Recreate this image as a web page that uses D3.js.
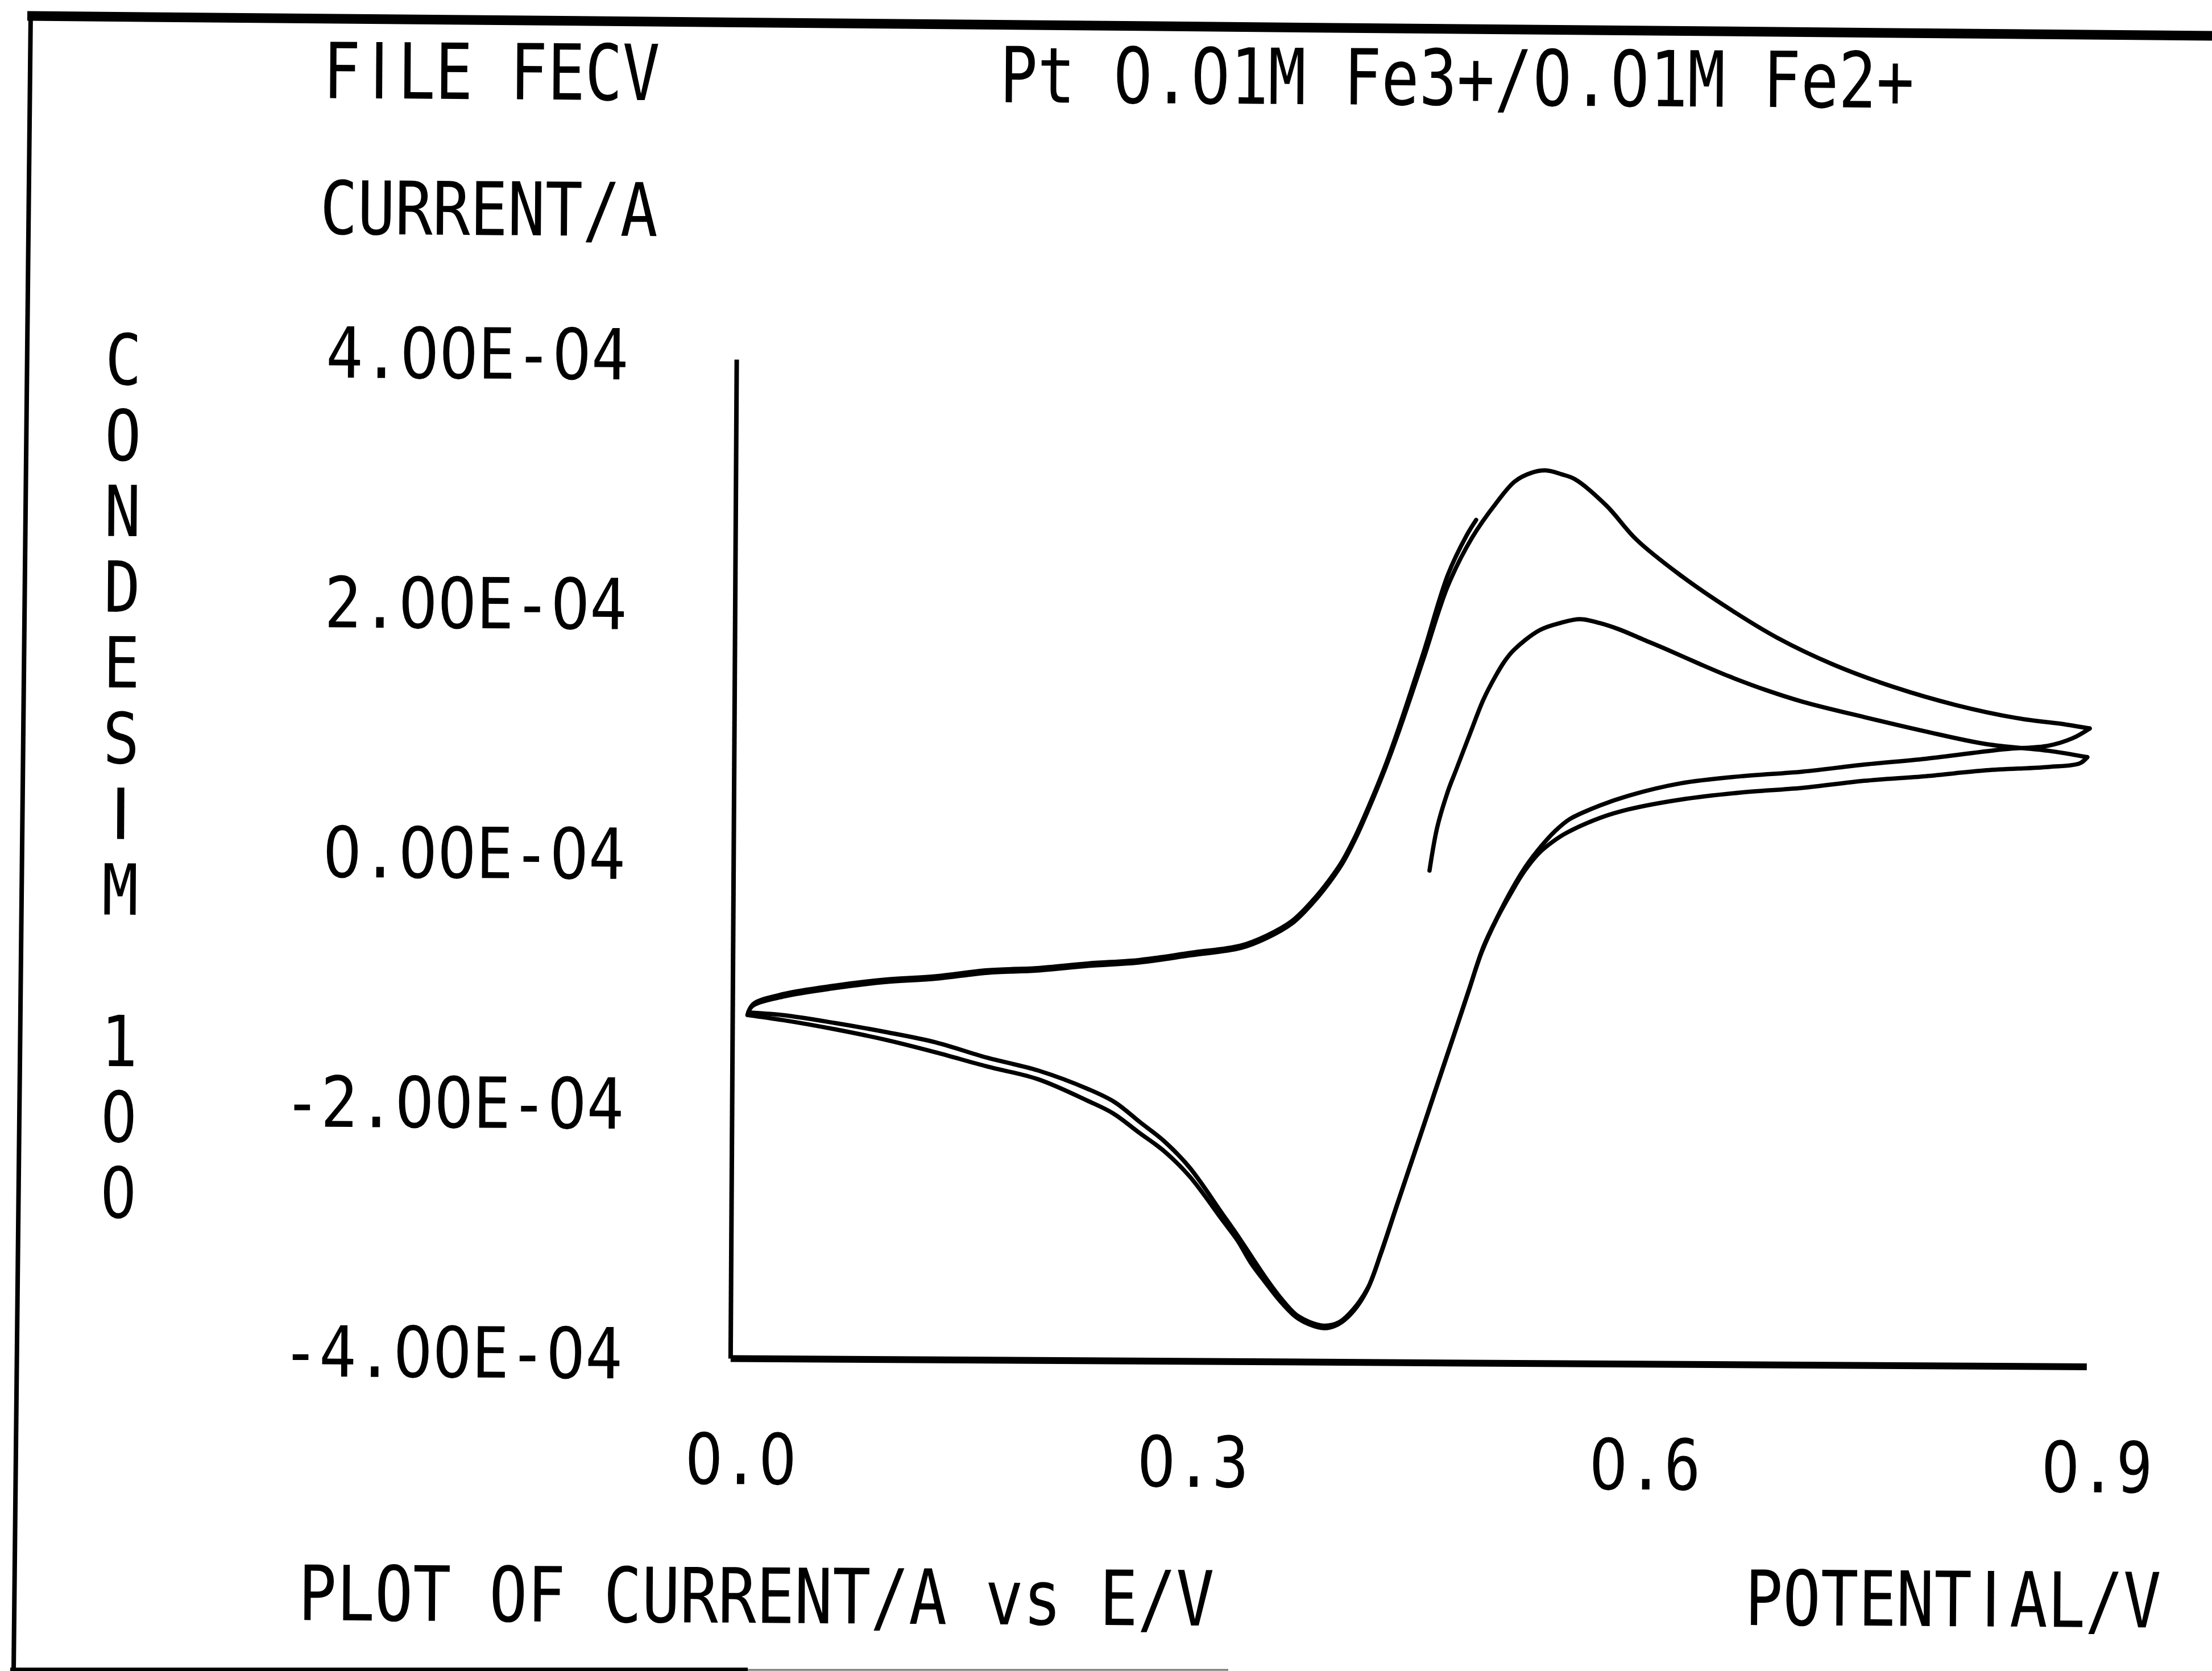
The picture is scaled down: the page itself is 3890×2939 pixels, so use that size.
<!DOCTYPE html>
<html>
<head>
<meta charset="utf-8">
<script src="https://cdn.jsdelivr.net/npm/d3@7"></script>
<style>
  html, body { margin: 0; padding: 0; background: #fff; }
  svg { display: block; }
</style>
</head>
<body>
<svg id="chart" width="3890" height="2939"></svg>
<script>
// Cyclic voltammogram: Pt electrode, 0.01 M Fe3+ / 0.01 M Fe2+.
// Potential in V, current in A. Each sweep is kept as its own pair of arrays.

const xTicks = [0, 0.3, 0.6, 0.9];
const xTickLabels = ["0.0", "0.3", "0.6", "0.9"];
const yTicks = [4e-4, 2e-4, 0, -2e-4, -4e-4];
const yTickLabels = ["4.00E-04", "2.00E-04", "0.00E-04", "-2.00E-04", "-4.00E-04"];

// Sweep 1, anodic: starts at the rest potential
const sweep1AnodicE = [0.462, 0.467, 0.474, 0.479, 0.489, 0.497, 0.505, 0.511, 0.517, 0.534, 0.548, 0.561, 0.574,
  0.587, 0.603, 0.619, 0.640, 0.660, 0.685, 0.709, 0.750, 0.790, 0.831, 0.872, 0.898];
const sweep1AnodicI = [-0.06e-4, 0.29e-4, 0.58e-4, 0.74e-4, 1.06e-4, 1.31e-4, 1.50e-4, 1.62e-4, 1.71e-4, 1.87e-4, 1.93e-4, 1.96e-4, 1.93e-4,
  1.88e-4, 1.80e-4, 1.72e-4, 1.61e-4, 1.51e-4, 1.40e-4, 1.31e-4, 1.19e-4, 1.08e-4, 0.98e-4, 0.93e-4, 0.88e-4];

// Sweep 1, cathodic
const sweep1CathodicE = [0.898, 0.893, 0.872, 0.831, 0.791, 0.750, 0.709, 0.668, 0.628, 0.594, 0.575, 0.553, 0.544,
  0.535, 0.525, 0.516, 0.507, 0.497, 0.488, 0.478, 0.469, 0.459, 0.450, 0.441, 0.431, 0.422, 0.412, 0.403, 0.394,
  0.384, 0.375, 0.365, 0.355, 0.345, 0.336, 0.326, 0.304, 0.287, 0.270, 0.253, 0.236, 0.203, 0.169, 0.135,
  0.101, 0.068, 0.034, 0.010];
const sweep1CathodicI = [0.88e-4, 0.83e-4, 0.80e-4, 0.77e-4, 0.72e-4, 0.68e-4, 0.62e-4, 0.58e-4, 0.52e-4, 0.44e-4, 0.37e-4, 0.25e-4, 0.18e-4,
  0.09e-4, -0.06e-4, -0.24e-4, -0.44e-4, -0.71e-4, -1.04e-4, -1.41e-4, -1.74e-4, -2.11e-4, -2.44e-4, -2.77e-4, -3.14e-4, -3.43e-4, -3.61e-4, -3.70e-4, -3.73e-4,
  -3.70e-4, -3.64e-4, -3.52e-4, -3.37e-4, -3.21e-4, -3.03e-4, -2.87e-4, -2.52e-4, -2.32e-4, -2.17e-4, -2.02e-4, -1.92e-4, -1.75e-4, -1.65e-4, -1.54e-4,
  -1.44e-4, -1.36e-4, -1.29e-4, -1.25e-4];

// Sweep 2, anodic
const sweep2AnodicE = [0.010, 0.013, 0.034, 0.068, 0.101, 0.135, 0.169, 0.202, 0.236, 0.270, 0.304, 0.337,
  0.354, 0.371, 0.385, 0.395, 0.404, 0.413, 0.421, 0.432, 0.441, 0.457, 0.473, 0.489, 0.505, 0.517, 0.528, 0.538,
  0.548, 0.557, 0.578, 0.598, 0.627, 0.660, 0.692, 0.729, 0.770, 0.811, 0.851, 0.884, 0.8995];
const sweep2AnodicI = [-1.25e-4, -1.18e-4, -1.10e-4, -1.03e-4, -0.98e-4, -0.95e-4, -0.90e-4, -0.88e-4, -0.84e-4, -0.81e-4, -0.75e-4, -0.69e-4,
  -0.61e-4, -0.49e-4, -0.32e-4, -0.17e-4, -0.01e-4, 0.20e-4, 0.42e-4, 0.75e-4, 1.05e-4, 1.63e-4, 2.22e-4, 2.61e-4, 2.89e-4, 3.06e-4, 3.13e-4, 3.15e-4,
  3.12e-4, 3.08e-4, 2.87e-4, 2.60e-4, 2.32e-4, 2.05e-4, 1.82e-4, 1.61e-4, 1.43e-4, 1.29e-4, 1.19e-4, 1.14e-4, 1.11e-4];

// Sweep 2, cathodic
const sweep2CathodicE = [0.8995, 0.888, 0.872, 0.843, 0.791, 0.750, 0.709, 0.668, 0.628, 0.594, 0.575, 0.555, 0.545,
  0.536, 0.526, 0.517, 0.508, 0.498, 0.489, 0.479, 0.470, 0.460, 0.451, 0.442, 0.432, 0.423, 0.413, 0.404, 0.394,
  0.384, 0.375, 0.365, 0.355, 0.346, 0.336, 0.326, 0.304, 0.287, 0.271, 0.254, 0.237, 0.203, 0.169, 0.135,
  0.102, 0.068, 0.034, 0.0105];
const sweep2CathodicI = [1.11e-4, 1.03e-4, 0.97e-4, 0.94e-4, 0.86e-4, 0.81e-4, 0.75e-4, 0.71e-4, 0.65e-4, 0.55e-4, 0.47e-4, 0.36e-4, 0.26e-4,
  0.14e-4, -0.02e-4, -0.20e-4, -0.41e-4, -0.67e-4, -1.00e-4, -1.37e-4, -1.70e-4, -2.07e-4, -2.40e-4, -2.73e-4, -3.10e-4, -3.40e-4, -3.58e-4, -3.68e-4, -3.71e-4,
  -3.68e-4, -3.62e-4, -3.49e-4, -3.33e-4, -3.17e-4, -2.99e-4, -2.82e-4, -2.45e-4, -2.24e-4, -2.09e-4, -1.93e-4, -1.83e-4, -1.68e-4, -1.58e-4, -1.46e-4,
  -1.38e-4, -1.31e-4, -1.25e-4, -1.23e-4];

// Sweep 3, anodic: stopped part way up the oxidation wave
const sweep3AnodicE = [0.0105, 0.014, 0.034, 0.068, 0.101, 0.135, 0.169, 0.202, 0.236, 0.270, 0.304, 0.337,
  0.354, 0.371, 0.385, 0.395, 0.404, 0.413, 0.421, 0.432, 0.441, 0.457, 0.473, 0.485, 0.4915];
const sweep3AnodicI = [-1.23e-4, -1.16e-4, -1.08e-4, -1.01e-4, -0.96e-4, -0.93e-4, -0.88e-4, -0.86e-4, -0.82e-4, -0.79e-4, -0.73e-4, -0.67e-4,
  -0.59e-4, -0.47e-4, -0.30e-4, -0.15e-4, 0.01e-4, 0.22e-4, 0.44e-4, 0.77e-4, 1.08e-4, 1.68e-4, 2.31e-4, 2.62e-4, 2.75e-4];

const sweeps = [
  [sweep1AnodicE, sweep1AnodicI],
  [sweep1CathodicE, sweep1CathodicI],
  [sweep2AnodicE, sweep2AnodicI],
  [sweep2CathodicE, sweep2CathodicI],
  [sweep3AnodicE, sweep3AnodicI]
].map(([E, I]) => E.map((e, k) => ({ e, i: I[k] })));

const FONT = "'DejaVu Sans Mono', 'Liberation Mono', monospace";
// plain (undotted) zero and bar-shaped I, as on the plotter
const ALT_FONT = "'DejaVu Sans', 'Liberation Sans', sans-serif";
const INK = "#000";

// Split a string into runs so that "0" and "I" can use the plain glyphs.
function runs(str) {
  const out = [];
  for (const ch of str) {
    const alt = ch === "0" || ch === "I";
    const last = out[out.length - 1];
    if (!alt && last && !last.alt) last.s += ch;
    else out.push({ s: ch, alt, dx: 0 });
  }
  // keep the narrow I centred in its monospace cell
  out.forEach((r, k) => {
    if (r.s === "I") {
      r.dx += 0.153;
      if (out[k + 1]) out[k + 1].dx += 0.153;
    }
  });
  return out;
}

function setText(sel, str) {
  sel.text(null);
  sel.selectAll("tspan")
    .data(runs(str))
    .join("tspan")
    .attr("font-family", d => d.alt ? ALT_FONT : null)
    .attr("dx", d => d.dx ? d.dx + "em" : null)
    .text(d => d.s);
  return sel;
}

// Squeeze a text horizontally so that it spans the given width (narrow plotter lettering)
function fit(sel, width) {
  sel.each(function (d, k) {
    const w = typeof width === "function" ? width(d, k) : width;
    const x0 = +this.getAttribute("x") || 0;
    const y0 = +this.getAttribute("y") || 0;
    const size = +this.getAttribute("font-size") || 16;
    let shiftEm = 0;
    d3.select(this).selectAll("tspan").each(t => { if (t && t.dx) shiftEm += t.dx; });
    const natural = this.getComputedTextLength() + shiftEm * size;
    d3.select(this)
      .attr("x", 0).attr("y", 0)
      .attr("transform", `translate(${x0},${y0}) scale(${w / natural},1)`);
  });
  return sel;
}

const svg = d3.select("#chart");
svg.append("rect").attr("width", 3890).attr("height", 2939).attr("fill", "#fff");

// Paper edge
const frame = svg.append("g").attr("stroke", INK).attr("fill", "none");
frame.append("line").attr("x1", 48).attr("y1", 28).attr("x2", 3890).attr("y2", 63).attr("stroke-width", 17);
frame.append("line").attr("x1", 54).attr("y1", 22).attr("x2", 24).attr("y2", 2939).attr("stroke-width", 8);
frame.append("line").attr("x1", 18).attr("y1", 2936).attr("x2", 1315).attr("y2", 2936).attr("stroke-width", 6);
frame.append("line").attr("x1", 1315).attr("y1", 2937).attr("x2", 2160).attr("y2", 2937).attr("stroke-width", 3).attr("stroke", "#777");

// The plotted sheet sits slightly skewed
const page = svg.append("g").attr("transform", "rotate(0.35 1945 1470)");

const x = d3.scaleLinear().domain([0, 0.9]).range([1290, 3675]);
const y = d3.scaleLinear().domain([-4e-4, 4e-4]).range([2393, 636]);

function label(parent, text, px, py, size, cell) {
  const t = parent.append("text")
    .attr("x", px).attr("y", py)
    .attr("font-family", FONT).attr("font-size", size)
    .attr("fill", INK);
  setText(t, text);
  return fit(t, text.length * cell);
}

// Header
label(page, "FILE FECV", 560, 181, 136, 65.8);
label(page, "Pt 0.01M Fe3+/0.01M Fe2+", 1750, 181, 136, 67);
label(page, "CURRENT/A", 556, 420, 130, 66);

// Footer
label(page, "PLOT OF CURRENT/A vs E/V", 533, 2858, 134, 67.1);
label(page, "POTENTIAL/V", 3077, 2851, 134, 66.5);

// Vertical caption, one character per line (blank slot between the words)
const caption = "CONDESIM 100".split("").map((c, k) => ({ c, k })).filter(d => d.c !== " ");
const capText = page.append("g")
  .selectAll("text")
  .data(caption)
  .join("text")
  .attr("x", 212)
  .attr("y", d => 687 + d.k * 133.2)
  .attr("font-family", d => (d.c === "0" || d.c === "I") ? ALT_FONT : FONT)
  .attr("font-size", 124)
  .attr("fill", INK)
  .attr("text-anchor", "middle")
  .text(d => d.c);
fit(capText.filter(d => d.c !== "I"), 64);

// Axes
const gy = page.append("g")
  .attr("transform", `translate(${x(0)},0)`)
  .call(d3.axisLeft(y).tickValues(yTicks).tickFormat((d, k) => yTickLabels[k]).tickSize(0).tickSizeOuter(0));
gy.select(".domain").attr("stroke", INK).attr("stroke-width", 8);
const yText = gy.selectAll(".tick text")
  .attr("x", -190).attr("dy", null).attr("y", 36)
  .attr("font-family", FONT).attr("font-size", 124).attr("fill", INK)
  .each(function (d, k) { setText(d3.select(this), yTickLabels[k]); });
fit(yText, (d, k) => yTickLabels[k].length * 66.5);

const gx = page.append("g")
  .attr("transform", `translate(0,${y(-4e-4)})`)
  .call(d3.axisBottom(x).tickValues(xTicks).tickFormat((d, k) => xTickLabels[k]).tickSize(0).tickSizeOuter(0));
gx.select(".domain").attr("stroke", INK).attr("stroke-width", 12);
const xText = gx.selectAll(".tick text")
  .attr("x", 19).attr("y", 221).attr("dy", null)
  .attr("font-family", FONT).attr("font-size", 124).attr("fill", INK)
  .each(function (d, k) { setText(d3.select(this), xTickLabels[k]); });
fit(xText, 196);

// Voltammogram traces
const line = d3.line()
  .x(d => x(d.e))
  .y(d => y(d.i))
  .curve(d3.curveCatmullRom.alpha(0.5));

page.append("g")
  .selectAll("path")
  .data(sweeps)
  .join("path")
  .attr("d", line)
  .attr("fill", "none")
  .attr("stroke", INK)
  .attr("stroke-width", 7.5)
  .attr("stroke-linejoin", "round")
  .attr("stroke-linecap", "round");
</script>
</body>
</html>
